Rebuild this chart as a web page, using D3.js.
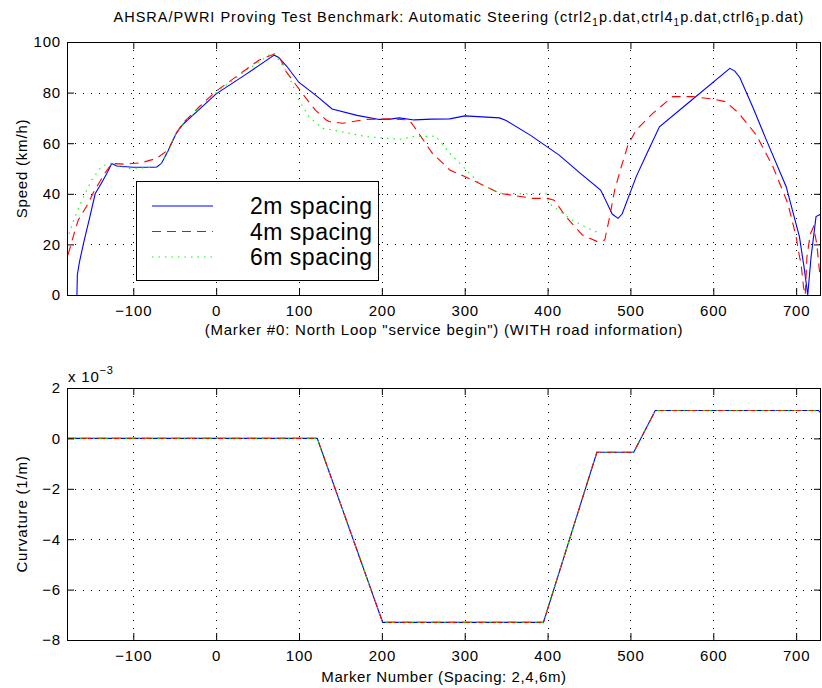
<!DOCTYPE html>
<html>
<head>
<meta charset="utf-8">
<script src="https://cdn.jsdelivr.net/npm/d3@7/dist/d3.min.js"></script>
<style>
  body { margin: 0; background: #fff; }
  svg { display: block; font-family: "Liberation Sans", Arial, Helvetica, sans-serif; letter-spacing: 0.8px; }
</style>
</head>
<body>
<svg id="chart" width="822" height="688"></svg>
<script>
// ---------- DATA ----------
const titleParts = ["AHSRA/PWRI Proving Test Benchmark: Automatic Steering (ctrl2", "1", "p.dat,ctrl4", "1", "p.dat,ctrl6", "1", "p.dat)"];
const seriesNames = ["2m spacing", "4m spacing", "6m spacing"];
const markerTicks = [-100, 0, 100, 200, 300, 400, 500, 600, 700];
const speedTicks = [0, 20, 40, 60, 80, 100];
const curvTicks = [-0.008, -0.006, -0.004, -0.002, 0, 0.002];

// [marker number, speed km/h]
const speed2m = [[-168,0],[-167.5,8],[-165,13],[-160,20.5],[-152,31.5],[-146,40],[-138,44.5],[-132,48],[-126,52],[-120,51],[-100,50.5],[-72,50.5],[-66,52],[-58,57],[-48,64],[-40,67.5],[-20,73.5],[0,79.5],[35,87],[70,94.8],[75,94],[85,90.5],[100,84],[120,79],[140,73.5],[170,71],[197,69.4],[210,69.5],[221,70],[239,69.2],[260,69.5],[282,69.6],[300,70.8],[342,70],[350,69],[380,63],[414,55.3],[440,48],[464,41.5],[470,37.5],[478,32],[485,30.3],[490,32],[507,46.8],[520,56],[535,66.5],[570,76],[620,89.6],[626,88.5],[632,86],[648,74],[664,61.3],[688,42.8],[704,23],[710,10],[714,0],[718,15],[724,31],[730,32]];
const speed4m = [[-180,10],[-179.5,15],[-176,19],[-172.6,23],[-166.5,29.6],[-156.5,35],[-146.5,41.5],[-134.4,48.1],[-126,52],[-110,51.7],[-90,52.3],[-72,54],[-58,57.3],[-48,64],[-40,68],[-20,74.5],[0,80.6],[25,86.5],[52,92.9],[72,95.5],[78,93],[84.5,88.3],[96.5,83],[108.6,77.7],[120,73],[132.8,69.2],[137,68.5],[153,67.9],[181,69.4],[209,69.6],[233,69.2],[239,66.5],[261,56],[282,49.4],[300,46.8],[318,44.1],[342,40.2],[382,38.2],[400,38.2],[408,37.5],[422,31],[442,23.7],[460,21.1],[469,21.7],[475,31],[481,41.5],[489,50.7],[497,59.3],[507,65.2],[527,71.8],[551,78.4],[575,78.4],[599,77.5],[615,76.4],[631,71.8],[652,63.2],[672,50.7],[690,36.2],[700,23],[703,17],[706,12],[709,3],[711,0],[713,15],[717,24],[721,27],[725,20],[728,10],[730,5]];
const speed6m = [[-180,21.7],[-172,29.6],[-162,37.5],[-150,45.5],[-138,51],[-126,52],[-106,50],[-72,50.5],[-66,52],[-58,57],[-48,64],[-40,67.5],[-20,74],[0,80],[35,88.5],[68,95.8],[78,92],[88,86.3],[100,77],[112,70.5],[128,65.9],[141,65.2],[181,62.6],[221,61.5],[239,62.6],[265,62.8],[282,56],[302,49.4],[318,44.1],[342,40.2],[370,40],[398,40.2],[402,36.2],[415,33],[430,29.6],[445,27],[458,25],[462,26]];

// [marker number, curvature 1/m]
const curv2m = [[-180,0],[122,0],[201,-0.0073],[395,-0.0073],[459.5,-0.00055],[504,-0.00055],[530,0.00111],[727,0.00111],[730,0.00100]];
const curv4m = [[-180,0],[122,0],[201,-0.0073],[395,-0.0073],[459.5,-0.00055],[504,-0.00055],[530,0.00111],[728,0.00111]];
const curv6m = [[-180,0],[122,0],[201,-0.0073],[395,-0.0073],[459.5,-0.00055],[504,-0.00055],[530,0.00111],[726,0.00111]];

// ---------- LAYOUT ----------
const svg = d3.select("#chart");
const L = 67, R = 821;
const top1 = 42, bot1 = 295;
const top2 = 388, bot2 = 640;
const FS = 15;

const x = d3.scaleLinear().domain([-180, 730]).range([L, R]);
const y1 = d3.scaleLinear().domain([0, 100]).range([bot1, top1]);
const y2 = d3.scaleLinear().domain([-0.008, 0.002]).range([bot2, top2]);

const styles = [
  { color: "#0000ff", dash: null },
  { color: "#ff0000", dash: "9,6" },
  { color: "#00ff00", dash: "1.5,5" }
];

function drawPanel(id, yScale, yTicks, yFmt, top, bot, data) {
  const g = svg.append("g");
  svg.append("clipPath").attr("id", id).append("rect")
    .attr("x", L).attr("y", top).attr("width", R - L).attr("height", bot - top);
  // grid
  const grid = g.append("g").attr("stroke", "#000").attr("stroke-width", 1).attr("stroke-dasharray", "1,7");
  markerTicks.forEach(t => grid.append("line")
    .attr("x1", Math.round(x(t)) + 0.5).attr("x2", Math.round(x(t)) + 0.5)
    .attr("y1", top).attr("y2", bot));
  yTicks.forEach(t => {
    if (yScale(t) > top + 1 && yScale(t) < bot - 1)
      grid.append("line").attr("x1", L).attr("x2", R)
        .attr("y1", Math.round(yScale(t)) + 0.5).attr("y2", Math.round(yScale(t)) + 0.5);
  });
  // lines
  const line = d3.line().x(d => x(d[0])).y(d => yScale(d[1]));
  const lg = g.append("g").attr("clip-path", `url(#${id})`);
  data.forEach((s, i) => {
    lg.append("path").datum(s).attr("d", line)
      .attr("fill", "none").attr("stroke", styles[i].color)
      .attr("stroke-width", 1.1)
      .attr("stroke-dasharray", styles[i].dash);
  });
  // axes (ticks inward)
  const ax = g.append("g");
  const bottomAxis = d3.axisBottom(x).tickValues(markerTicks).tickSizeInner(-7).tickSizeOuter(0).tickPadding(10);
  const topAxis = d3.axisTop(x).tickValues(markerTicks).tickSizeInner(-7).tickSizeOuter(0).tickFormat("");
  const leftAxis = d3.axisLeft(yScale).tickValues(yTicks).tickSizeInner(-7).tickSizeOuter(0).tickPadding(6).tickFormat(yFmt);
  const rightAxis = d3.axisRight(yScale).tickValues(yTicks).tickSizeInner(-7).tickSizeOuter(0).tickFormat("");
  [[bottomAxis, `translate(0,${bot})`], [topAxis, `translate(0,${top})`],
   [leftAxis, `translate(${L},0)`], [rightAxis, `translate(${R},0)`]].forEach(([a, tr]) => {
    const gg = ax.append("g").attr("transform", tr).call(a);
    gg.attr("font-family", null).attr("font-size", null);
    gg.select(".domain").remove();
    gg.selectAll("text").attr("fill", "#000").attr("font-size", FS);
    gg.selectAll("line").attr("stroke", "#000");
  });
  // box
  g.append("rect").attr("x", L + 0.5).attr("y", top + 0.5)
    .attr("width", R - L - 1).attr("height", bot - top)
    .attr("fill", "none").attr("stroke", "#000").attr("stroke-width", 1);
  return g;
}

drawPanel("clip1", y1, speedTicks, d3.format("d"), top1, bot1, [speed2m, speed4m, speed6m]);
drawPanel("clip2", y2, curvTicks, d => d3.format("d")(Math.round(d * 1000)), top2, bot2, [curv2m, curv4m, curv6m]);

// title
const title = svg.append("text").attr("x", 459).attr("y", 22).attr("text-anchor", "middle")
  .attr("font-size", 14.5).attr("fill", "#000").style("letter-spacing", "1px");
titleParts.forEach((p, i) => {
  const sub = i % 2 === 1;
  title.append("tspan").text(p)
    .attr("dy", sub ? 4 : (i > 0 ? -4 : 0))
    .attr("font-size", sub ? 10 : 14.5);
});

// axis labels
svg.append("text").attr("x", 444).attr("y", 335).attr("text-anchor", "middle").attr("font-size", FS)
  .text('(Marker #0: North Loop "service begin") (WITH road information)');
svg.append("text").attr("x", 444).attr("y", 682).attr("text-anchor", "middle").attr("font-size", FS)
  .style("letter-spacing", "0.6px")
  .text("Marker Number (Spacing: 2,4,6m)");
svg.append("text").attr("transform", `translate(27,${(top1 + bot1) / 2}) rotate(-90)`).attr("text-anchor", "middle").attr("font-size", FS)
  .text("Speed (km/h)");
svg.append("text").attr("transform", `translate(27,${(top2 + bot2) / 2}) rotate(-90)`).attr("text-anchor", "middle").attr("font-size", FS)
  .text("Curvature (1/m)");
const mult = svg.append("text").attr("x", 68).attr("y", 382).attr("font-size", FS);
mult.append("tspan").text("x 10");
mult.append("tspan").text("\u22123").attr("dy", -8).attr("font-size", 11);

// legend
const leg = svg.append("g");
leg.append("rect").attr("x", 136.5).attr("y", 181.5).attr("width", 242).attr("height", 99)
  .attr("fill", "#fff").attr("stroke", "#000").attr("stroke-width", 1);
const legY = [206, 231.5, 257];
seriesNames.forEach((n, i) => {
  leg.append("line").attr("x1", 152).attr("x2", 213).attr("y1", legY[i]).attr("y2", legY[i])
    .attr("stroke", styles[i].color).attr("stroke-width", 1.1).attr("stroke-dasharray", styles[i].dash);
  leg.append("text").attr("x", 250).attr("y", legY[i] + 8).attr("font-size", 23)
    .style("letter-spacing", "0.5px").text(n);
});
</script>
</body>
</html>
